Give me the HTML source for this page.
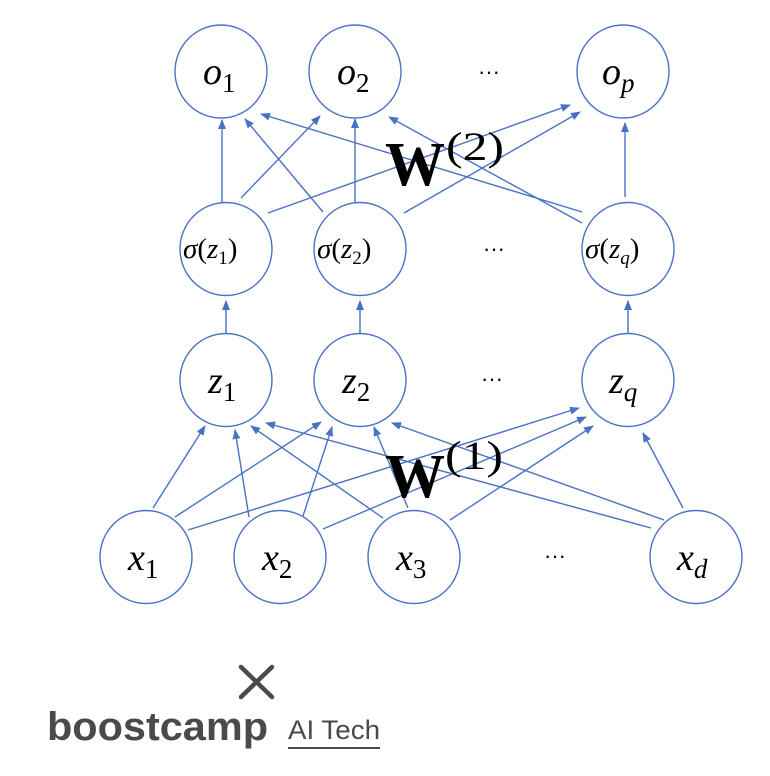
<!DOCTYPE html>
<html><head><meta charset="utf-8"><style>
html,body{margin:0;padding:0;background:#fff;}
svg{display:block;}
</style></head><body>
<svg width="770" height="776" viewBox="0 0 770 776" xmlns="http://www.w3.org/2000/svg">
<defs>
<marker id="a" markerWidth="10" markerHeight="8" refX="9" refY="4" orient="auto" markerUnits="userSpaceOnUse">
<path d="M0,0 L10,4 L0,8 Z" fill="#4a72c4"/>
</marker>
</defs>
<g stroke="#4a72c4" stroke-width="1.4" fill="none" marker-end="url(#a)">
<line x1="153" y1="508" x2="205" y2="426"/>
<line x1="249" y1="517" x2="235" y2="430"/>
<line x1="383" y1="518" x2="251" y2="426"/>
<line x1="651" y1="528" x2="266" y2="423"/>
<line x1="175" y1="517" x2="321" y2="422"/>
<line x1="303" y1="516" x2="332" y2="427"/>
<line x1="408" y1="508" x2="374" y2="427"/>
<line x1="664" y1="520" x2="392" y2="423"/>
<line x1="188" y1="530" x2="579" y2="408"/>
<line x1="323" y1="529" x2="586" y2="417"/>
<line x1="450" y1="520" x2="593" y2="426"/>
<line x1="683" y1="508" x2="643" y2="433"/>
<line x1="226" y1="334" x2="226" y2="301"/>
<line x1="360" y1="334" x2="360" y2="301"/>
<line x1="628" y1="334" x2="628" y2="301"/>
<line x1="222" y1="202" x2="222" y2="120"/>
<line x1="323" y1="212" x2="245" y2="119"/>
<line x1="582" y1="212" x2="261" y2="114"/>
<line x1="241" y1="198" x2="320" y2="116"/>
<line x1="355" y1="202" x2="355" y2="119"/>
<line x1="582" y1="223" x2="389" y2="117"/>
<line x1="268" y1="213" x2="570" y2="105"/>
<line x1="404" y1="213" x2="580" y2="112"/>
<line x1="625" y1="197" x2="625" y2="123"/>
</g>
<g stroke="#4a72c4" stroke-width="1.4" fill="#fff">
<ellipse cx="221" cy="71.5" rx="46" ry="46.5"/>
<ellipse cx="355" cy="71.5" rx="46" ry="46.5"/>
<ellipse cx="623" cy="71.5" rx="46" ry="46.5"/>
<ellipse cx="226" cy="249" rx="46" ry="46.5"/>
<ellipse cx="360" cy="249" rx="46" ry="46.5"/>
<ellipse cx="628" cy="249" rx="46" ry="46.5"/>
<ellipse cx="226" cy="380" rx="46" ry="46.5"/>
<ellipse cx="360" cy="380" rx="46" ry="46.5"/>
<ellipse cx="628" cy="380" rx="46" ry="46.5"/>
<ellipse cx="146" cy="557" rx="46" ry="46.5"/>
<ellipse cx="280" cy="557" rx="46" ry="46.5"/>
<ellipse cx="414" cy="557" rx="46" ry="46.5"/>
<ellipse cx="696" cy="557" rx="46" ry="46.5"/>
</g>
<g font-family="Liberation Serif, serif" fill="#000">
<g font-size="38" font-style="italic">
<text x="203" y="84">o<tspan font-style="normal" font-size="27" dy="8">1</tspan></text>
<text x="337" y="84">o<tspan font-style="normal" font-size="27" dy="8">2</tspan></text>
<text x="602" y="84">o<tspan font-size="27" dy="8">p</tspan></text>
<text x="208" y="393">z<tspan font-style="normal" font-size="27" dy="8">1</tspan></text>
<text x="342" y="393">z<tspan font-style="normal" font-size="27" dy="8">2</tspan></text>
<text x="609" y="393">z<tspan font-size="27" dy="8">q</tspan></text>
<text x="128" y="570">x<tspan font-style="normal" font-size="27" dy="8">1</tspan></text>
<text x="262" y="570">x<tspan font-style="normal" font-size="27" dy="8">2</tspan></text>
<text x="396" y="570">x<tspan font-style="normal" font-size="27" dy="8">3</tspan></text>
<text x="677" y="570">x<tspan font-size="27" dy="8">d</tspan></text>
</g>
<g font-size="29">
<text x="183" y="258"><tspan font-style="italic">σ</tspan>(<tspan font-style="italic">z</tspan><tspan font-size="19" dy="6">1</tspan><tspan dy="-6">)</tspan></text>
<text x="317" y="258"><tspan font-style="italic">σ</tspan>(<tspan font-style="italic">z</tspan><tspan font-size="19" dy="6">2</tspan><tspan dy="-6">)</tspan></text>
<text x="585" y="258"><tspan font-style="italic">σ</tspan>(<tspan font-style="italic">z</tspan><tspan font-size="19" font-style="italic" dy="6">q</tspan><tspan dy="-6">)</tspan></text>
</g>
<g font-size="22" font-family="Liberation Sans, sans-serif" text-anchor="middle">
<text x="489" y="79">···</text>
<text x="494" y="256">···</text>
<text x="492" y="386">···</text>
<text x="555" y="563">···</text>
</g>
<text x="385" y="185" font-size="62" font-weight="bold" textLength="60" lengthAdjust="spacingAndGlyphs">W</text>
<text x="446" y="160" font-size="40" textLength="58" lengthAdjust="spacingAndGlyphs">(2)</text>
<text x="385" y="497" font-size="62" font-weight="bold" textLength="60" lengthAdjust="spacingAndGlyphs">W</text>
<text x="445" y="469" font-size="40" textLength="58" lengthAdjust="spacingAndGlyphs">(1)</text>
</g>
<g stroke="#4a4a4a" stroke-width="4.5" stroke-linecap="round">
<line x1="241" y1="667" x2="272" y2="697"/>
<line x1="272" y1="667" x2="241" y2="697"/>
</g>
<text x="47" y="740" font-family="Liberation Sans, sans-serif" font-weight="bold" font-size="40" fill="#4a4a4a" textLength="221" lengthAdjust="spacingAndGlyphs">boostcamp</text>
<text x="288" y="739" font-family="Liberation Sans, sans-serif" font-size="27" fill="#4a4a4a" textLength="92" lengthAdjust="spacingAndGlyphs">AI Tech</text>
<line x1="288" y1="748" x2="380" y2="748" stroke="#4a4a4a" stroke-width="2"/>
</svg>
</body></html>
